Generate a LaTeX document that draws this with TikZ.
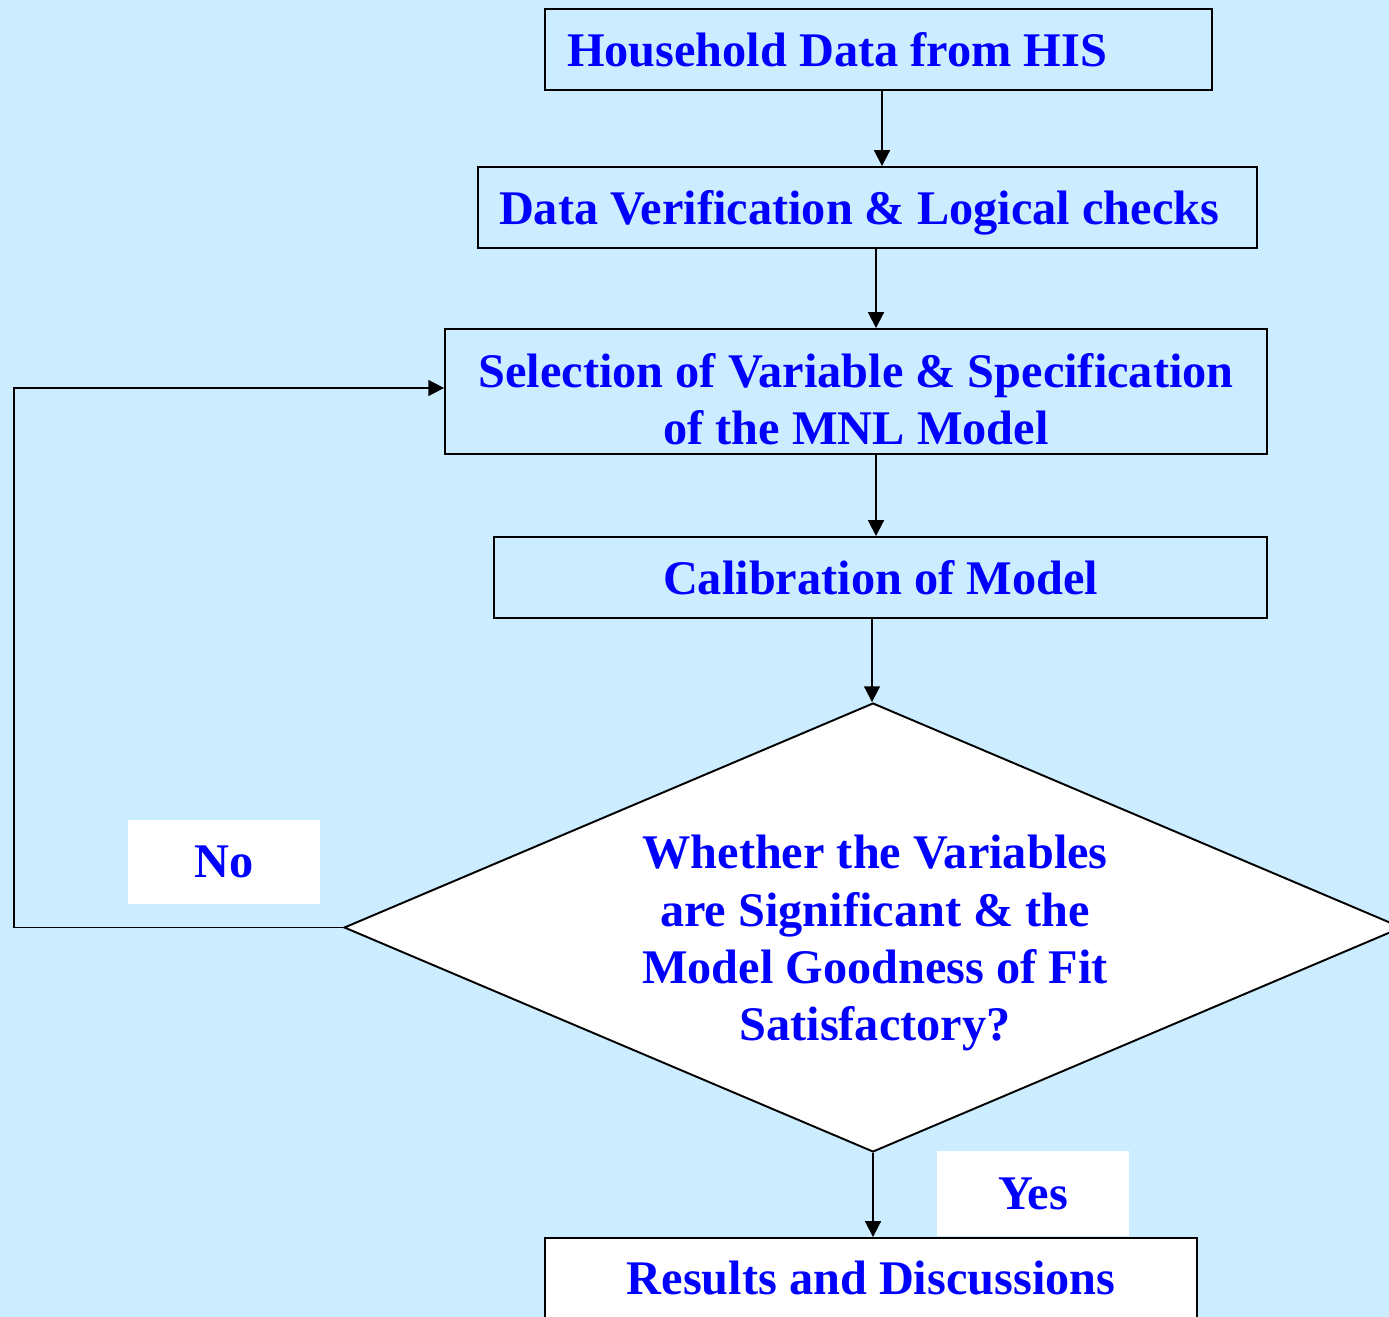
\documentclass[tikz,border=0pt]{standalone}
\usepackage{fontspec}
\setmainfont{Liberation Serif}
\usetikzlibrary{arrows.meta,shapes.geometric}

\definecolor{bgblue}{RGB}{204,236,255}
\definecolor{txtblue}{RGB}{0,0,255}

\tikzset{
  box/.style={draw, line width=1.1pt, inner sep=0pt, minimum height=1.62cm,
    text=txtblue, align=center, font=\bfseries\fontsize{27.5}{32.5}\selectfont},
  flow/.style={line width=1.1pt, -{Triangle[length=9pt,width=9pt]}},
  tag/.style={fill=white, inner sep=0pt, minimum width=3.84cm, minimum height=1.69cm,
    text=txtblue, font=\bfseries\fontsize{27.5}{32.5}\selectfont}
}

\begin{document}
\begin{tikzpicture}[x=0.02cm, y=-0.02cm]

        % Fondo
        \clip (0,0) rectangle (1389,1317);
        \fill[bgblue] (0,0) rectangle (1389,1317);

        % Cajas del proceso
        \node[box, minimum width=13.34cm, text width=12.46cm, inner xsep=0.44cm, align=flush left]
              (his) at (878.5,49.5) {Household Data from HIS};
        \node[box, minimum width=15.58cm, text width=14.74cm, inner xsep=0.42cm, align=flush left,
              text depth=0pt] (verif) at (867.5,207.5) {Data Verification \& Logical checks};
        \node[box, minimum width=16.44cm, minimum height=2.5cm, text height=61pt]
              (spec) at (856,391.5) {Selection of Variable \& Specification\\of the MNL Model};
        \node[box, minimum width=15.46cm] (calib) at (880.5,577.5) {Calibration of Model};

        % Rombo de decision
        \node[draw, line width=1.1pt, fill=white, shape=diamond, inner sep=0pt,
              minimum width=21.16cm, minimum height=8.98cm] (dec) at (873,927.5) {};
        \node[text=txtblue, align=center, font=\bfseries\fontsize{27.5}{32.5}\selectfont]
              (quest) at (875,943) {Whether the Variables\\are Significant \& the\\Model Goodness of Fit\\Satisfactory?};

        \node[box, fill=white, minimum width=13.04cm] (res) at (871,1278.5) {Results and Discussions};

        % Etiquetas
        \node[tag] (no) at (224,862) {No};
        \node[tag] (yes) at (1033,1193.5) {Yes};

        % Flechas
        \coordinate (c1) at (882,0);
        \coordinate (c2) at (876,0);
        \coordinate (c3) at (872,0);
        \coordinate (back) at (14,388);

        \draw[flow] (his.south -| c1) -- (verif.north -| c1);
        \draw[flow] (verif.south -| c2) -- (spec.north -| c2);
        \draw[flow] (spec.south -| c2) -- (calib.north -| c2);
        \draw[flow] (calib.south -| c3) -- (dec.north -| c3);
        \draw[flow] (dec.south) -- (res.north -| dec.south);
        \draw[flow] (dec.west) -| (back) -- (spec.west |- back);

    \end{tikzpicture}
\end{document}
